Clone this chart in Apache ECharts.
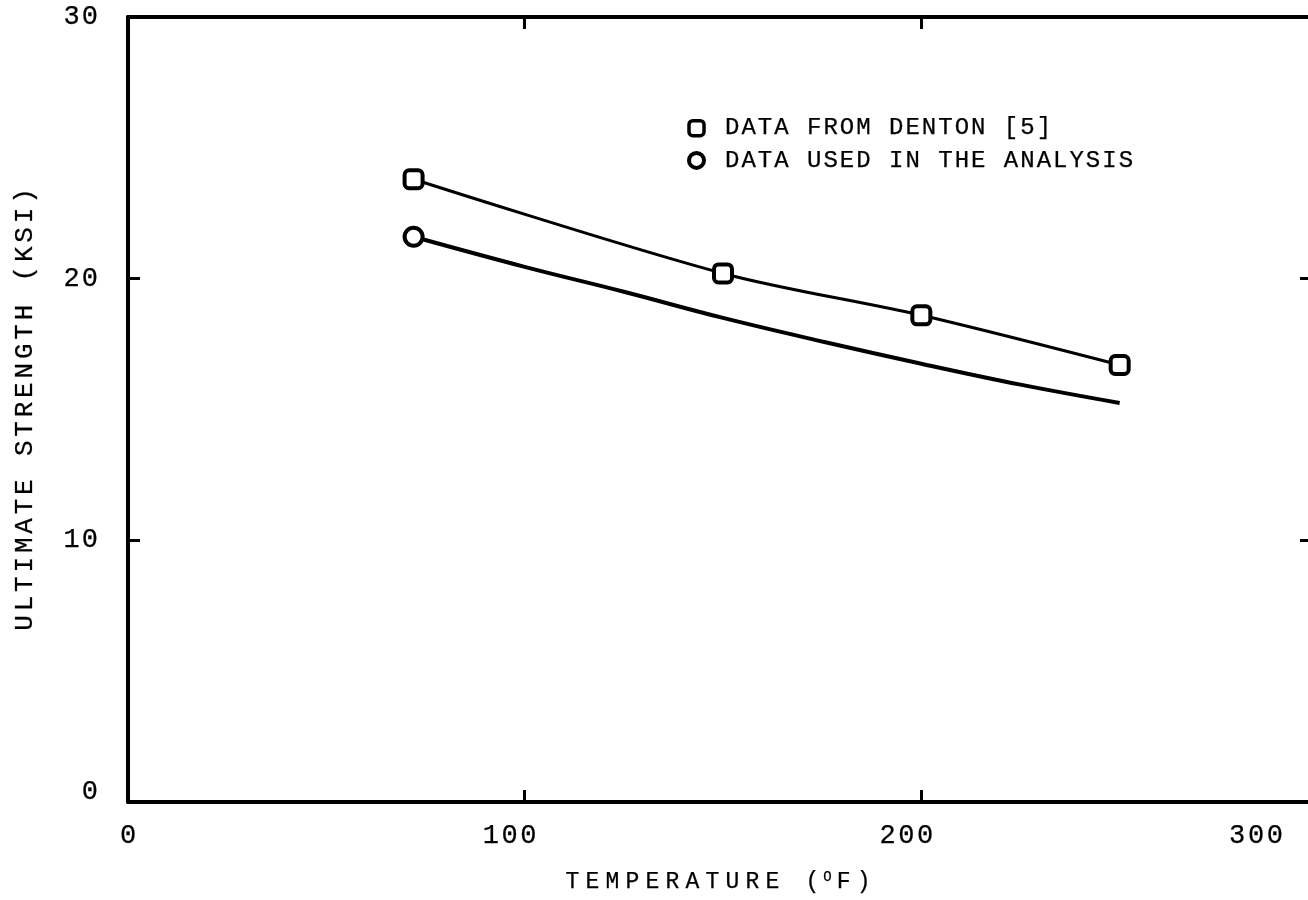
<!DOCTYPE html>
<html>
<head>
<meta charset="utf-8">
<script src="https://cdn.jsdelivr.net/npm/echarts@6/dist/echarts.min.js"></script>
<style>
html,body{margin:0;padding:0;background:#fff;}
#chart{width:1308px;height:900px;}
</style>
</head>
<body>
<div id="chart"></div>
<script>
// ---- data ----
const seriesNames = ['DATA FROM DENTON [5]', 'DATA USED IN THE ANALYSIS'];
const dentonTemp = [72, 150, 200, 250];
const dentonStrength = [23.8, 20.2, 18.6, 16.7];
const analysisTemp = [72, 100, 125, 150, 175, 200, 225, 250];
const analysisStrength = [21.6, 20.45, 19.5, 18.5, 17.6, 16.75, 15.95, 15.25];
const xTicks = [0, 100, 200, 300];
const yTicks = [0, 10, 20, 30];
const xTitle = 'TEMPERATURE';
const yTitle = 'ULTIMATE STRENGTH (KSI)';

// ---- helpers ----
const FONT = '"Liberation Mono", "DejaVu Sans Mono", monospace';
function spaced(s, style) {
  return s.split('').map(c => '{' + style + '|' + c + '}').join('');
}
function charStyle(size, pad, extra) {
  return Object.assign({fontFamily: FONT, fontSize: size, color: '#000', padding: [0, pad, 0, pad],
    textBorderColor: '#000', textBorderWidth: 0.25}, extra || {});
}
const boxLine = {show: true, onZero: false, lineStyle: {color: '#000', width: 4}};
const boxTick = {show: true, inside: true, length: 12, lineStyle: {color: '#000', width: 3}};

const chart = echarts.init(document.getElementById('chart'), null, {renderer: 'canvas'});
const option = {
  animation: false,
  backgroundColor: '#fff',
  grid: {left: 128, top: 17, width: 1190, height: 785, containLabel: false, outerBoundsMode: 'none'},
  legend: {
    orient: 'vertical',
    left: 682,
    top: 111,
    itemWidth: 15,
    itemHeight: 15,
    itemGap: 8,
    formatter: n => '{lg| }' + spaced(n, 'l'),
    textStyle: {
      fontFamily: FONT, fontSize: 24, color: '#000',
      rich: {lg: {width: 15, fontSize: 24}, l: charStyle(24, 1.0)}
    },
    data: [
      {name: seriesNames[0], icon: 'roundRect', itemStyle: {color: '#fff', borderColor: '#000', borderWidth: 3.5}},
      {name: seriesNames[1], icon: 'circle', itemStyle: {color: '#fff', borderColor: '#000', borderWidth: 4}}
    ]
  },
  xAxis: [
    {
      type: 'value', position: 'bottom', min: xTicks[0], max: xTicks[xTicks.length - 1], interval: 100,
      axisLine: boxLine, axisTick: boxTick, splitLine: {show: false},
      axisLabel: {
        margin: 20,
        formatter: v => {
          const s = spaced(String(v), 'n');
          if (v === 300) return s + '{g3| }';
          if (v === 0) return s;
          return s + '{g1| }';
        },
        rich: {n: charStyle(27, 1.3), g1: {width: 30, fontSize: 27}, g3: {width: 124, fontSize: 27}}
      },
      name: spaced(xTitle + ' (', 't') + '{s|O}' + spaced('F)', 't') + '{g| }',
      nameLocation: 'middle', nameGap: 68,
      nameTextStyle: {
        fontFamily: FONT, fontSize: 23, color: '#000',
        rich: {t: charStyle(23, 3.1), s: charStyle(14, 1, {verticalAlign: 'top', padding: [0, 2, 8, 1]}), g: {width: 10, fontSize: 23}}
      }
    },
    {
      type: 'value', position: 'top', min: xTicks[0], max: xTicks[xTicks.length - 1], interval: 100,
      axisLine: boxLine, axisTick: boxTick, axisLabel: {show: false}, splitLine: {show: false}
    }
  ],
  yAxis: [
    {
      type: 'value', position: 'left', min: yTicks[0], max: yTicks[yTicks.length - 1], interval: 10,
      axisLine: boxLine, axisTick: boxTick, splitLine: {show: false},
      axisLabel: {
        margin: 29,
        formatter: v => spaced(String(v), v === 0 ? 'z' : 'n'),
        rich: {n: charStyle(27, 1.0), z: charStyle(27, 1.0, {padding: [0, 1, 20, 1]})}
      },
      name: spaced(yTitle, 't'),
      nameLocation: 'middle', nameGap: 90,
      nameTextStyle: {fontFamily: FONT, fontSize: 26, color: '#000', rich: {t: charStyle(26, 1.9)}}
    },
    {
      type: 'value', position: 'right', min: yTicks[0], max: yTicks[yTicks.length - 1], interval: 10,
      axisLine: boxLine, axisTick: Object.assign({}, boxTick, {length: 18}), axisLabel: {show: false}, splitLine: {show: false}
    }
  ],
  series: [
    {
      name: seriesNames[0], type: 'line', xAxisIndex: 0, yAxisIndex: 0,
      data: dentonTemp.map((t, i) => [t, dentonStrength[i]]),
      smooth: 0.3, symbol: 'roundRect', symbolSize: 18,
      itemStyle: {color: '#fff', borderColor: '#000', borderWidth: 4},
      lineStyle: {color: '#000', width: 3}, z: 3
    },
    {
      name: seriesNames[1], type: 'line', xAxisIndex: 0, yAxisIndex: 0,
      data: analysisTemp.map((t, i) => i === 0 ? {value: [t, analysisStrength[i]]} : {value: [t, analysisStrength[i]], symbol: 'none'}),
      smooth: 0.4, symbol: 'circle', symbolSize: 18, showAllSymbol: true,
      itemStyle: {color: '#fff', borderColor: '#000', borderWidth: 4},
      lineStyle: {color: '#000', width: 4}, z: 3
    }
  ]
};
chart.setOption(option);
</script>
</body>
</html>
